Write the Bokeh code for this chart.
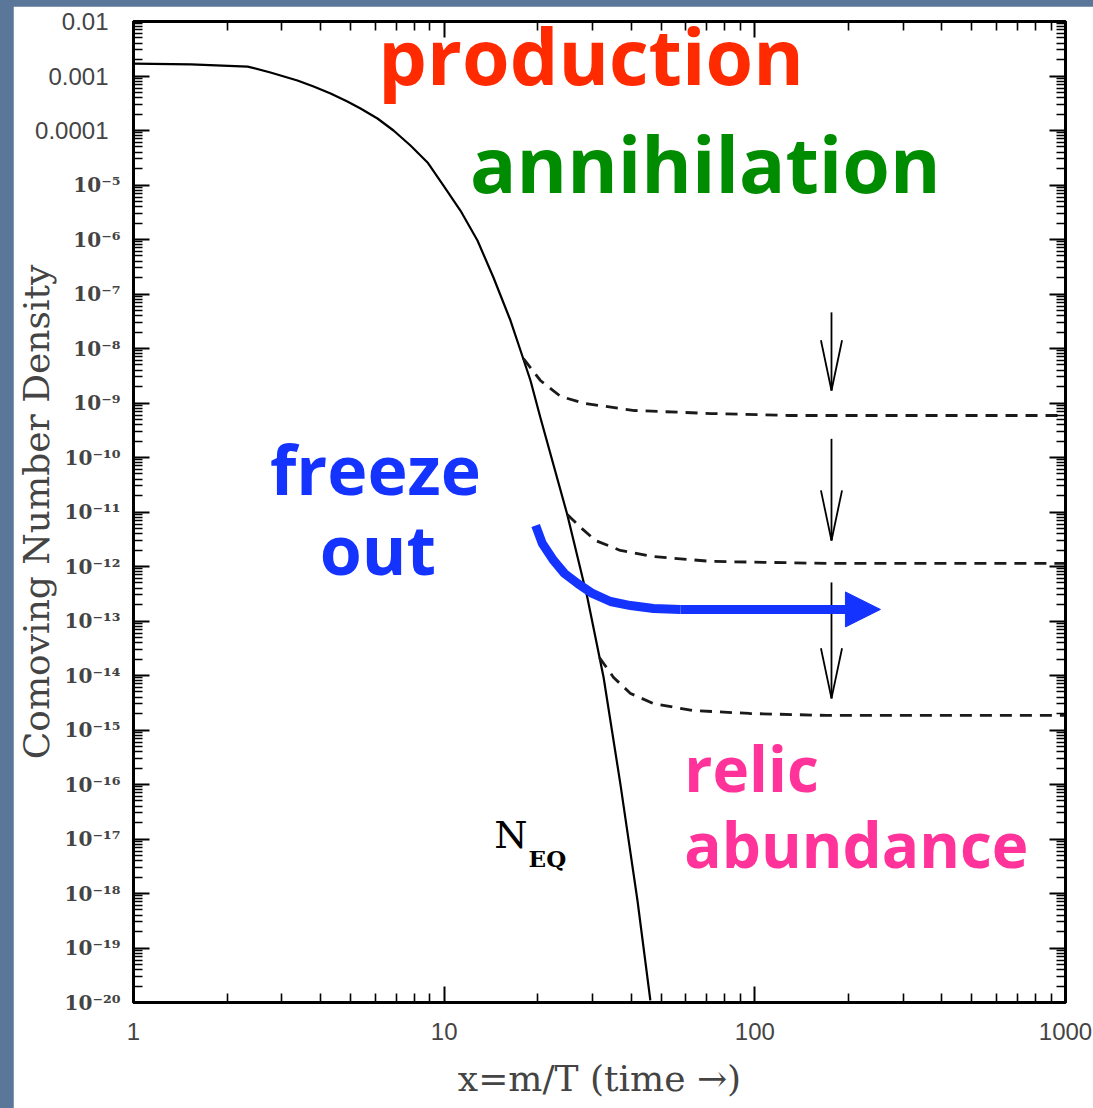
from bokeh.plotting import figure
from bokeh.models import Range1d, LogAxis, FixedTicker, Arrow, NormalHead
from bokeh.layouts import column
from bokeh.core.properties import value
from bokeh.embed import file_html
from bokeh.resources import INLINE

# ---- data -------------------------------------------------------------
# equilibrium comoving number density N_EQ versus x = m/T
neq_x = [1.0, 1.53, 2.33, 2.76, 3.37, 3.80, 4.31, 4.88, 5.38, 6.10, 6.87, 7.79,
         8.84, 9.95, 11.28, 12.80, 14.41, 16.35, 17.61, 18.96, 20.4, 24.9, 28.9,
         32.6, 36.9, 41.9, 46.1]
neq_y = [1.69e-3, 1.63e-3, 1.49e-3, 1.16e-3, 8.27e-4, 6.42e-4, 4.77e-4, 3.40e-4,
         2.53e-4, 1.66e-4, 1.0e-4, 5.31e-5, 2.59e-5, 9.79e-6, 3.40e-6, 9.59e-7,
         2.01e-7, 3.26e-8, 9.19e-9, 2.59e-9, 5.42e-10, 9.0e-12, 2.70e-13,
         9.19e-15, 1.04e-16, 7.44e-19, 1.09e-20]

# actual abundance for three annihilation cross sections (freeze-out curves)
relic_a_x = [18.0, 20.4, 23.7, 28.3, 41.0, 72.5, 128.0, 1000.0]
relic_a_y = [6.55e-9, 2.59e-9, 1.32e-9, 9.8e-10, 7.28e-10, 6.41e-10, 5.9e-10, 5.9e-10]
relic_b_x = [24.9, 27.5, 30.7, 36.9, 47.2, 72.5, 170.0, 1000.0]
relic_b_y = [9.0e-12, 5.2e-12, 3.0e-12, 1.97e-12, 1.52e-12, 1.24e-12, 1.14e-12, 1.14e-12]
relic_c_x = [31.6, 35.1, 39.8, 47.2, 63.0, 96.1, 170.0, 1000.0]
relic_c_y = [2.14e-14, 9.2e-15, 4.68e-15, 3.06e-15, 2.28e-15, 2.01e-15, 1.85e-15, 1.85e-15]

# increasing <sigma v> arrows
sigma_arrow_x = 176.5
sigma_arrow_top = [4.6e-8, 2.2e-10, 5.1e-13]
sigma_arrow_tip = [1.7e-9, 3.0e-12, 3.8e-15]

# "freeze out" guide arrow
freeze_path_x = [19.7, 20.7, 22.5, 24.4, 26.9, 30.0, 34.3, 39.8, 47.2, 57.6]
freeze_path_y = [5.65e-12, 2.64e-12, 1.29e-12, 7.44e-13, 4.88e-13, 3.2e-13,
                 2.28e-13, 1.92e-13, 1.69e-13, 1.63e-13]
freeze_tip_x = 253.7

# axis ticks
x_major = [1.0, 10.0, 100.0, 1000.0]
x_labels = ["1", "10", "100", "1000"]
y_exponents = list(range(-20, -1))
y_plain_labels = {-2: "0.01", -3: "0.001", -4: "0.0001"}

# ---- figure -----------------------------------------------------------
BG = "#5a7698"
BLUE = "#1433ff"

p = figure(width=1080, height=1102, x_axis_type="log", y_axis_type="log",
           x_range=Range1d(1, 1000), y_range=Range1d(1e-20, 1e-2),
           output_backend="svg", toolbar_location=None,
           min_border_left=120, min_border_right=28, min_border_top=15,
           min_border_bottom=106, background_fill_color="white",
           border_fill_color="white", outline_line_color="black",
           outline_line_width=3)
p.margin = (6, 0, 0, 13)
p.xgrid.visible = False
p.ygrid.visible = False

x_minor = [m * d for d in x_major[:-1] for m in range(2, 10)]
x_ticker = FixedTicker(ticks=x_major, minor_ticks=x_minor)
y_major = [float(f"1e{k}") for k in y_exponents]
y_minor = [m * float(f"1e{k}") for k in y_exponents[:-1] for m in range(2, 10)]
y_ticker = FixedTicker(ticks=y_major, minor_ticks=y_minor)

SUP = str.maketrans("-0123456789", "⁻⁰¹²³⁴⁵⁶⁷⁸⁹")


def style_axis(ax):
    ax.axis_line_width = 3
    ax.major_tick_in = 16
    ax.major_tick_out = 0
    ax.minor_tick_in = 9
    ax.minor_tick_out = 0
    ax.major_tick_line_width = 2
    ax.minor_tick_line_width = 1.6


xa = p.xaxis[0]
xa.ticker = x_ticker
style_axis(xa)
xa.major_label_overrides = dict(zip(x_major, x_labels))
xa.major_label_text_font = "Liberation Sans"
xa.major_label_text_font_size = "24px"
xa.major_label_standoff = 20
xa.axis_label = "x=m/T (time →)"
xa.axis_label_text_font = "DejaVu Serif"
xa.axis_label_text_font_style = "normal"
xa.axis_label_text_font_size = "36px"
xa.axis_label_standoff = 15

# inner left axis: ticks and the serif power-of-ten labels
ya = p.yaxis[0]
ya.ticker = y_ticker
style_axis(ya)
ya.major_label_overrides = {
    v: ("" if k in y_plain_labels else "10" + str(k).translate(SUP))
    for k, v in zip(y_exponents, y_major)
}
ya.major_label_text_font = "DejaVu Serif"
ya.major_label_text_font_style = "bold"
ya.major_label_text_font_size = "20px"
ya.major_label_standoff = 13

# outer left axis: decimal labels of the top three decades (sans face),
# pulled back into the label column, plus the axis title
plain_vals = [float(f"1e{k}") for k in y_plain_labels]
plain_axis = LogAxis(ticker=FixedTicker(ticks=plain_vals, minor_ticks=[]),
                     major_label_overrides=dict(zip(plain_vals, y_plain_labels.values())),
                     major_label_text_font="Liberation Sans",
                     major_label_text_font_size="24px",
                     major_label_standoff=-47, axis_line_color=None,
                     major_tick_line_color=None, minor_tick_line_color=None,
                     major_tick_in=0, major_tick_out=0,
                     minor_tick_in=0, minor_tick_out=0,
                     axis_label="Comoving Number Density",
                     axis_label_text_font="DejaVu Serif",
                     axis_label_text_font_style="normal",
                     axis_label_text_font_size="36px",
                     axis_label_standoff=-25)
p.add_layout(plain_axis, "left")

top = LogAxis(ticker=x_ticker, major_label_overrides={v: "" for v in x_major},
              major_label_standoff=0)
style_axis(top)
p.add_layout(top, "above")
right = LogAxis(ticker=y_ticker, major_label_overrides={v: "" for v in y_major},
                major_label_standoff=0)
style_axis(right)
p.add_layout(right, "right")

# ---- curves -----------------------------------------------------------
p.line(neq_x, neq_y, line_color="black", line_width=2.2, line_join="round")
for xs, ys in ((relic_a_x, relic_a_y), (relic_b_x, relic_b_y), (relic_c_x, relic_c_y)):
    p.line(xs, ys, line_color="#1a1a1a", line_width=2.8, line_dash="12 8",
           line_join="round")

# narrow open-headed arrows (head about 50 px long, 21 px wide)
head_len = 10 ** 0.92
head_half = 10 ** 0.034
n = len(sigma_arrow_tip)
p.segment(x0=[sigma_arrow_x] * n, y0=sigma_arrow_top,
          x1=[sigma_arrow_x] * n, y1=sigma_arrow_tip, line_color="black", line_width=1.8)
for tip in sigma_arrow_tip:
    p.segment(x0=[sigma_arrow_x / head_half, sigma_arrow_x * head_half],
              y0=[tip * head_len, tip * head_len],
              x1=[sigma_arrow_x, sigma_arrow_x], y1=[tip, tip],
              line_color="black", line_width=1.8)

p.line(freeze_path_x, freeze_path_y, line_color=BLUE, line_width=9, line_join="round")
p.add_layout(Arrow(x_start=freeze_path_x[-1], y_start=freeze_path_y[-1],
                   x_end=freeze_tip_x, y_end=freeze_path_y[-1],
                   line_color=BLUE, line_width=9,
                   end=NormalHead(size=35, fill_color=BLUE, line_color=BLUE, line_width=1)))

# ---- words (anchored at their vertical middle) -------------------------
def words(x, y, txt, color, size, align="center", font="Open Sans", style="bold"):
    p.text(x=[x], y=[y], text=[txt], text_color=color, text_font=value(font),
           text_font_style=style, text_font_size=size, text_align=align,
           text_baseline="middle")


words(29.7, 2.38e-3, "production", "#ff2a00", "77px")
words(69.3, 2.48e-5, "annihilation", "#008c00", "77px")
words(6.01, 6.4e-11, "freeze", BLUE, "68px")
words(6.12, 2.18e-12, "out", BLUE, "68px")
words(59.3, 1.97e-16, "relic", "#ff3399", "62px", align="left")
words(59.3, 8.26e-18, "abundance", "#ff3399", "62px", align="left")
words(14.5, 1.16e-17, "N", "black", "38px", align="left", font="DejaVu Serif", style="normal")
words(18.7, 4.38e-18, "EQ", "black", "23px", align="left", font="DejaVu Serif", style="bold")

page = column(p, styles={"background-color": BG})
open("out.html", "w").write(file_html(page, INLINE))
